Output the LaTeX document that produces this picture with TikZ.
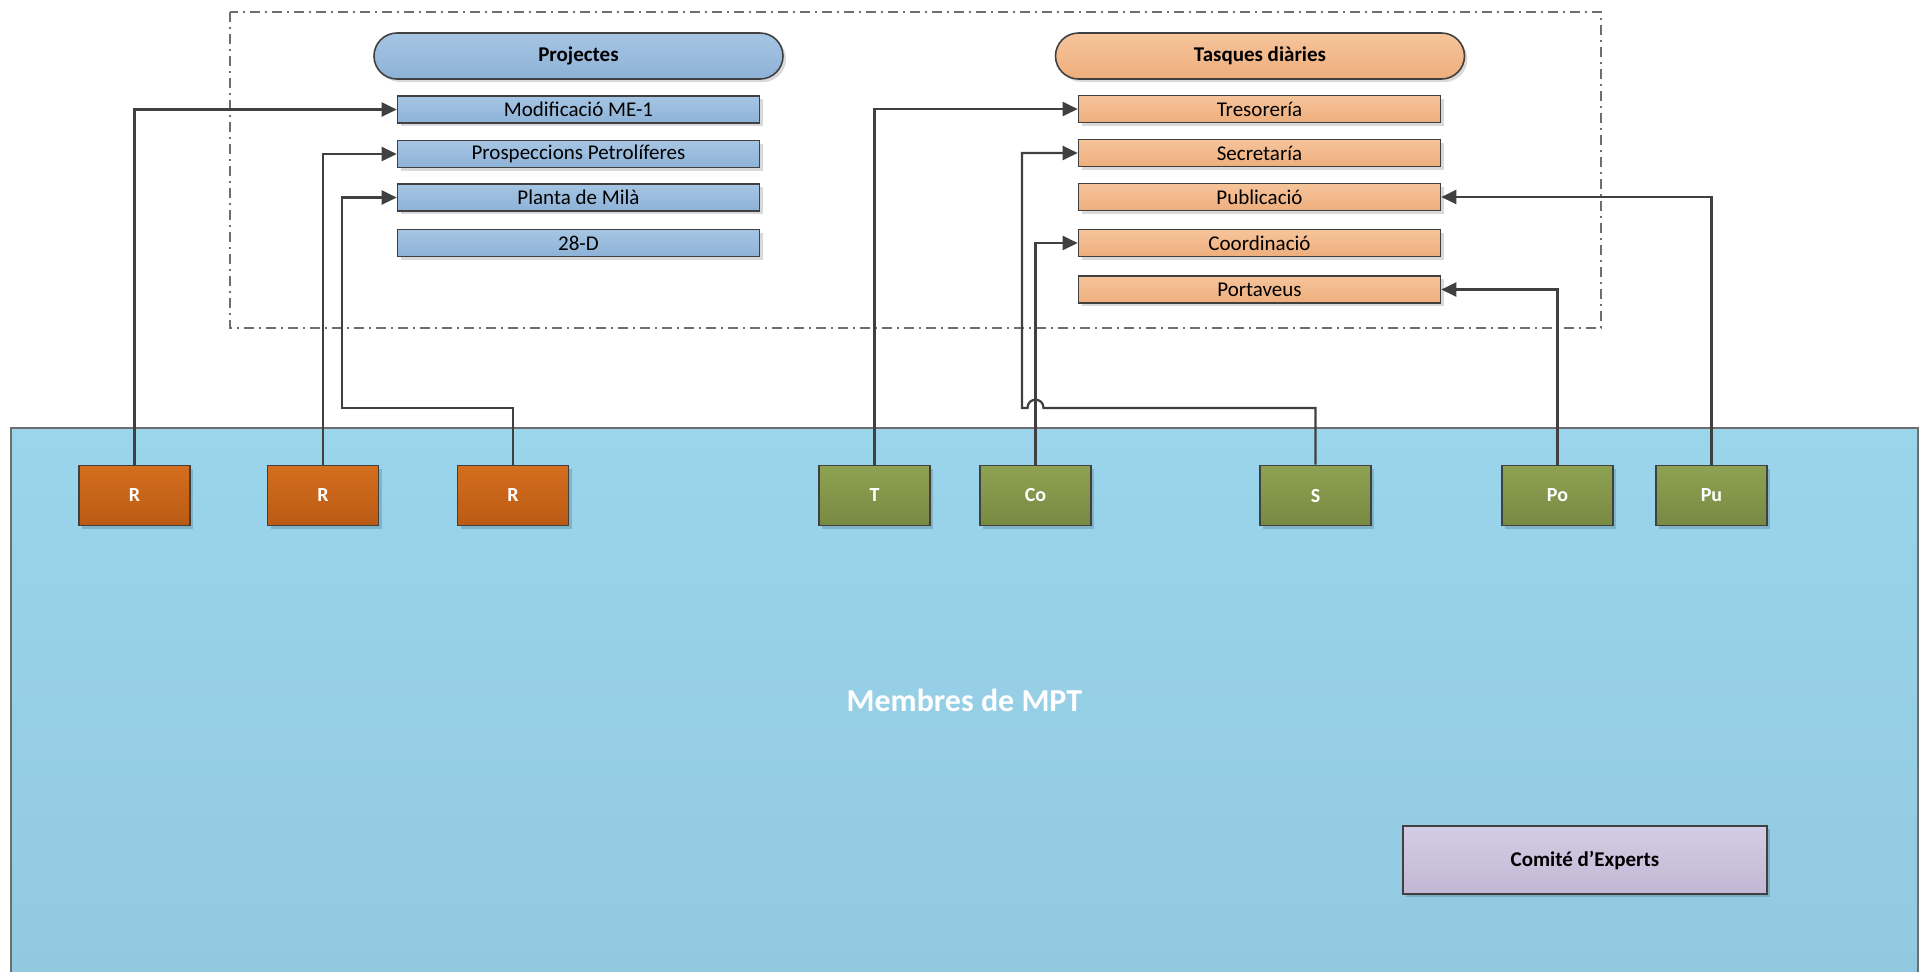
\documentclass[tikz,border=0pt]{standalone}
\usepackage{fontspec}
\setmainfont{Carlito}
\usetikzlibrary{arrows.meta,positioning,calc,shadows}
\definecolor{linegray}{RGB}{64,64,64}
\definecolor{frame}{RGB}{110,110,110}
\definecolor{projtop}{RGB}{166,197,227}
\definecolor{projbot}{RGB}{141,178,215}
\definecolor{tasktop}{RGB}{246,196,155}
\definecolor{taskbot}{RGB}{238,174,124}
\definecolor{rtop}{RGB}{212,110,30}
\definecolor{rbot}{RGB}{186,90,20}
\definecolor{gtop}{RGB}{142,162,82}
\definecolor{gbot}{RGB}{120,137,66}
\definecolor{ltop}{RGB}{212,204,228}
\definecolor{lbot}{RGB}{194,184,213}
\definecolor{mpttop}{RGB}{154,213,236}
\definecolor{mptbot}{RGB}{145,201,224}
\tikzset{base/.style={draw=linegray,line width=0.8pt,inner sep=0pt,align=center,
 font=\fontsize{10.5}{12}\selectfont,
 drop shadow={shadow xshift=1.5pt,shadow yshift=-1.5pt,fill=black,opacity=0.15}},
 pill/.style={base,rounded corners=11.5pt,minimum width=204.5pt,minimum height=23pt,
 font=\fontsize{10.5}{12}\selectfont\bfseries},
 item/.style={base,minimum width=181pt,minimum height=13.5pt},
 projbox/.style={item,top color=projtop,bottom color=projbot},
 taskbox/.style={item,top color=tasktop,bottom color=taskbot},
 member/.style={base,minimum width=55.5pt,minimum height=30pt,text=white,
 font=\fontsize{10}{12}\selectfont\bfseries},
 rbox/.style={member,top color=rtop,bottom color=rbot},
 gbox/.style={member,top color=gtop,bottom color=gbot},
 arr/.style={-{Triangle[length=7.5pt,width=7pt]},draw=linegray,line width=1.1pt}}

\begin{document}
\begin{tikzpicture}[x=0.5pt,y=-0.5pt]
\useasboundingbox (0,0) rectangle (1919,971);
% members area
\node[draw=frame,line width=0.6pt,top color=mpttop,bottom color=mptbot,minimum width=953.5pt,
 minimum height=272.5pt,text=white,font=\fontsize{16}{19}\selectfont\bfseries] (mpt) at (964.5,700.5) {Membres de MPT};
% group frame
\draw[frame,line width=0.6pt,dash pattern=on 5pt off 2.5pt on 1pt off 2.5pt] (230,12) rectangle (1601,328);
\node[pill,top color=projtop,bottom color=projbot] (proj) at (578.5,56) {Projectes};
\node[pill,top color=tasktop,bottom color=taskbot] (tasq) at (1260,56) {Tasques diàries};
\node[projbox] (modif) at (578.5,109.5) {Modificació ME-1};
\node[projbox] (prosp) at (578.5,154) {Prospeccions Petrolíferes};
\node[projbox] (planta) at (578.5,197.5) {Planta de Milà};
\node[projbox] (dosvuit) at (578.5,243) {28-D};
\node[taskbox] (treso) at (1259.5,109) {Tresorería};
\node[taskbox] (secr) at (1259.5,153) {Secretaría};
\node[taskbox] (publi) at (1259.5,197) {Publicació};
\node[taskbox] (coord) at (1259.5,243) {Coordinació};
\node[taskbox] (portav) at (1259.5,289.5) {Portaveus};
% members
\node[rbox] (r1) at (134.5,495.5) {R};
\node[rbox] (r2) at (323,495.5) {R};
\node[rbox] (r3) at (513,495.5) {R};
\node[gbox] (t) at (874.5,495.5) {T};
\node[gbox] (co) at (1035.5,495.5) {Co};
\node[gbox] (s) at (1315.5,495.5) {S};
\node[gbox] (po) at (1557.5,495.5) {Po};
\node[gbox] (pu) at (1711.5,495.5) {Pu};
\node[base,minimum width=182pt,minimum height=34pt,top color=ltop,bottom color=lbot,
 font=\fontsize{10.5}{12}\selectfont\bfseries] (comite) at (1585,860) {Comité d’Experts};
% connectors
\coordinate (r3bend) at (342,408);
\coordinate (sbend) at (1022,408);
\draw[arr] (r1.north) |- (modif.west);
\draw[arr] (r2.north) |- (prosp.west);
\draw[arr] (r3.north) |- (r3bend) |- (planta.west);
\draw[arr] (t.north) |- (treso.west);
\draw[arr] (co.north) |- (coord.west);
\draw[arr] (s.north) |- ($(co.north |- sbend)+(8,0)$) .. controls +(0,-11) and +(0,-11) .. ($(co.north |- sbend)+(-8,0)$) -- (sbend) |- (secr.west);
\draw[arr] (po.north) |- (portav.east);
\draw[arr] (pu.north) |- (publi.east);
\end{tikzpicture}
\end{document}
